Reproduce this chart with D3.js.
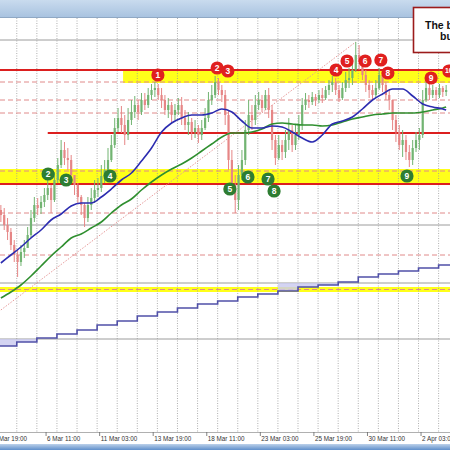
<!DOCTYPE html>
<html><head><meta charset="utf-8">
<script src="https://cdn.jsdelivr.net/npm/d3@7"></script>
<style>html,body{margin:0;padding:0;background:#fff;overflow:hidden}</style>
</head><body>
<svg id="c" width="450" height="450"></svg>
<script>
// ---------- DATA ----------
// time axis: hours of trading time after "3 Mar 19:00"
const candleStartHour = 8;   // first 4h candle opens here
const candleHours = 4;
const firstOpen = 150.40;
const closes = [150.35,150.25,150.18,150.05,149.95,149.88,149.98,150.02,150.15,150.32,
 150.45,150.42,150.48,150.55,150.62,150.50,150.70,150.85,151.00,150.92,
 150.90,150.75,150.65,150.53,150.45,150.32,150.45,150.52,150.60,150.62,
 150.74,150.80,150.90,151.05,151.22,151.32,151.25,151.15,151.30,151.38,
 151.45,151.38,151.50,151.45,151.55,151.60,151.62,151.55,151.50,151.40,
 151.45,151.35,151.40,151.45,151.32,151.25,151.28,151.18,151.22,151.15,
 151.22,151.32,151.50,151.55,151.68,151.60,151.55,151.35,150.90,150.65,
 150.50,150.75,150.90,151.20,151.35,151.30,151.45,151.50,151.42,151.55,
 151.40,151.10,150.92,151.05,150.98,151.10,151.20,151.05,151.15,151.25,
 151.45,151.50,151.48,151.53,151.50,151.55,151.52,151.60,151.65,151.68,
 151.60,151.52,151.62,151.70,151.72,151.80,151.95,151.88,151.75,151.65,
 151.60,151.55,151.62,151.75,151.65,151.55,151.50,151.30,151.18,151.05,
 151.10,150.98,150.90,151.02,151.10,151.15,151.50,151.62,151.55,151.60,
 151.55,151.62,151.58,151.60];
const highs = [150.45,150.42,150.32,150.22,150.10,150.00,150.05,150.10,150.23,150.40,
 150.53,150.52,150.54,150.62,150.70,150.65,150.78,150.92,151.10,151.08,
 151.02,150.95,150.75,150.67,150.55,150.47,150.53,150.62,150.70,150.72,
 150.85,150.90,151.02,151.15,151.32,151.42,151.44,151.35,151.42,151.50,
 151.54,151.50,151.57,151.57,151.62,151.66,151.68,151.66,151.62,151.55,
 151.52,151.48,151.46,151.52,151.53,151.40,151.38,151.32,151.30,151.25,
 151.30,151.42,151.58,151.65,151.74,151.72,151.65,151.60,151.40,151.00,
 150.75,150.85,151.00,151.30,151.50,151.45,151.55,151.58,151.55,151.60,
 151.62,151.45,151.15,151.15,151.10,151.20,151.32,151.25,151.25,151.35,
 151.52,151.57,151.55,151.58,151.56,151.60,151.62,151.64,151.70,151.74,
 151.72,151.65,151.68,151.78,151.82,151.88,152.08,152.05,151.92,151.80,
 151.70,151.65,151.70,151.82,151.80,151.68,151.60,151.50,151.35,151.25,
 151.20,151.15,151.05,151.10,151.18,151.22,151.60,151.68,151.66,151.65,
 151.63,151.66,151.64,151.65];
const lows = [150.28,150.20,150.10,150.00,149.88,149.73,149.84,149.92,150.05,150.12,
 150.28,150.35,150.36,150.43,150.50,150.37,150.48,150.67,150.82,150.85,
 150.80,150.67,150.55,150.47,150.35,150.23,150.28,150.40,150.47,150.53,
 150.58,150.67,150.78,150.88,151.02,151.18,151.17,151.05,151.10,151.25,
 151.32,151.30,151.35,151.40,151.42,151.50,151.53,151.50,151.42,151.35,
 151.32,151.27,151.30,151.35,151.25,151.20,151.15,151.10,151.12,151.07,
 151.10,151.20,151.28,151.45,151.52,151.55,151.48,151.25,150.80,150.55,
 150.37,150.40,150.70,150.85,151.15,151.20,151.25,151.40,151.38,151.40,
 151.32,151.00,150.85,150.90,150.90,150.92,151.00,150.98,151.00,151.10,
 151.20,151.40,151.42,151.45,151.44,151.47,151.47,151.50,151.55,151.58,
 151.55,151.48,151.50,151.58,151.62,151.65,151.78,151.80,151.70,151.58,
 151.52,151.50,151.52,151.60,151.58,151.50,151.40,151.20,151.08,151.00,
 150.93,150.90,150.83,150.85,150.98,151.00,151.12,151.48,151.50,151.52,
 151.50,151.52,151.53,151.54];

// moving averages, sampled every 3 candles plus the last candle
const maSampleEvery = 3;
const maBlue = [149.87,149.95,150.03,150.12,150.20,150.30,150.36,150.44,150.47,150.47,
 150.53,150.61,150.70,150.77,150.89,151.02,151.18,151.27,151.32,151.35,
 151.35,151.37,151.41,151.38,151.29,151.22,151.22,151.24,151.23,151.18,
 151.12,151.08,151.15,151.26,151.29,151.33,151.41,151.50,151.56,151.61,
 151.61,151.54,151.46,151.43,151.41,151.40];
const maGreen = [149.52,149.58,149.65,149.74,149.84,149.94,150.03,150.12,150.16,150.22,
 150.28,150.37,150.45,150.51,150.60,150.68,150.75,150.81,150.86,150.92,
 150.99,151.06,151.13,151.17,151.17,151.18,151.21,151.26,151.27,151.26,
 151.25,151.25,151.24,151.25,151.28,151.31,151.33,151.35,151.36,151.37,
 151.37,151.37,151.38,151.40,151.42,151.43];

// daily stepped average (one value per trading day)
const dayStartHour = 5;
const dayHours = 24;
const dailyStep = [149.04,149.08,149.12,149.16,149.20,149.25,149.29,149.34,149.38,149.42,
 149.46,149.49,149.53,149.56,149.59,149.63,149.65,149.68,149.73,149.76,
 149.79,149.82,149.85];

// x-axis labels, one every 64 trading hours
const xLabels = ["3 Mar 19:00","6 Mar 11:00","11 Mar 03:00","13 Mar 19:00","18 Mar 11:00",
 "23 Mar 03:00","25 Mar 19:00","30 Mar 11:00","2 Apr 03:00"];
const xLabelStep = 64;

// horizontal levels
const grayLevels = [152.10, 150.25, 149.67, 149.11];
const redLevels = [151.80, 151.17, 150.66];
const redLevelStart = [-3, 14, -3];          // candle index where line starts
const dashLevels = [151.68, 151.50, 151.37, 150.79, 150.37, 149.95, 149.605];
const bandTop = [151.80, 150.81, 149.63];
const bandBottom = [151.67, 150.66, 149.58];
const bandStart = [36.5, -3, -3];

// trend line (candle index, price)
const trendIdx = [0, 106];
const trendPrice = [149.40, 152.08];

// numbered swing markers
const redMarkText = ["1","2","3","4","5","6","7","8","9","10"];
const redMarkIdx = [46.9, 64.6, 67.8, 100.1, 103.4, 108.8, 113.5, 115.6, 128.5, 133.8];
const redMarkPrice = [151.75, 151.82, 151.79, 151.80, 151.89, 151.89, 151.90, 151.77, 151.72, 151.79];
const greenMarkText = ["2","3","4","5","6","7","8","9"];
const greenMarkIdx = [14.1, 19.5, 32.6, 68.4, 73.8, 79.8, 81.6, 121.3];
const greenMarkPrice = [150.76, 150.70, 150.74, 150.61, 150.73, 150.71, 150.59, 150.74];

const noteLines = ["The buyers push higher", "but stall at resistance"];

// ---------- DRAW ----------
const svg = d3.select("#c");
const plotTop = 18, plotBottom = 432, W = 450;
const x = d3.scaleLinear().domain([0, 546.6]).range([-7.5, W]);
const y = d3.scaleLinear().domain([148.12, 152.32]).range([438, 18]);
const hourOf = k => candleStartHour + candleHours * k + candleHours / 2;
const xk = k => x(hourOf(k));

const defs = svg.append("defs");
defs.append("clipPath").attr("id","plot").append("rect")
  .attr("x",0).attr("y",plotTop).attr("width",W).attr("height",plotBottom-plotTop);
const g1 = defs.append("linearGradient").attr("id","bar").attr("x1",0).attr("y1",0).attr("x2",0).attr("y2",1);
g1.append("stop").attr("offset","0%").attr("stop-color","#c9dbee");
g1.append("stop").attr("offset","100%").attr("stop-color","#a9c3e0");
const g2 = defs.append("linearGradient").attr("id","bot").attr("x1",0).attr("y1",0).attr("x2",0).attr("y2",1);
g2.append("stop").attr("offset","0%").attr("stop-color","#bcd1ea");
g2.append("stop").attr("offset","100%").attr("stop-color","#5f8fcb");

svg.append("rect").attr("width",W).attr("height",450).attr("fill","#fff");

const plot = svg.append("g").attr("clip-path","url(#plot)");

// yellow bands
plot.selectAll("rect.band").data(bandTop).join("rect").attr("class","band")
  .attr("x",(d,i)=>Math.max(0,xk(bandStart[i])))
  .attr("y",d=>y(d))
  .attr("width",(d,i)=>W-Math.max(0,xk(bandStart[i])))
  .attr("height",(d,i)=>y(bandBottom[i])-y(d))
  .attr("fill","#ffff1a");

// vertical day grid
const dayLines = d3.range(dayStartHour + dayHours, 546, dayHours);
plot.selectAll("line.vg").data(dayLines).join("line")
  .attr("x1",d=>x(d)).attr("x2",d=>x(d)).attr("y1",plotTop).attr("y2",plotBottom)
  .attr("stroke","#9a9a9a").attr("stroke-width",0.8).attr("stroke-dasharray","1,1.5");

// gray levels
plot.selectAll("line.gl").data(grayLevels).join("line")
  .attr("x1",0).attr("x2",W).attr("y1",d=>y(d)).attr("y2",d=>y(d))
  .attr("stroke","#9c9c9c").attr("stroke-width",1);

// dashed levels
plot.selectAll("line.dl").data(dashLevels).join("line")
  .attr("x1",0).attr("x2",W).attr("y1",d=>y(d)).attr("y2",d=>y(d))
  .attr("stroke","#e08a8a").attr("stroke-width",1).attr("stroke-dasharray","5,3");

// red levels
plot.selectAll("line.rl").data(redLevels).join("line")
  .attr("x1",(d,i)=>Math.max(0,xk(redLevelStart[i]))).attr("x2",W)
  .attr("y1",d=>y(d)).attr("y2",d=>y(d))
  .attr("stroke","#dc1f1f").attr("stroke-width",2.2);

// trend line
plot.append("line")
  .attr("x1",xk(trendIdx[0])).attr("y1",y(trendPrice[0]))
  .attr("x2",xk(trendIdx[1])).attr("y2",y(trendPrice[1]))
  .attr("stroke","#e79a9a").attr("stroke-width",1).attr("stroke-dasharray","1.5,1.5");

// daily step line + fill where it sits just below a gray level
const stepPts = [];
dailyStep.forEach((v,i)=>{
  stepPts.push([x(dayStartHour + i*dayHours), v]);
  stepPts.push([x(dayStartHour + (i+1)*dayHours), v]);
});
dailyStep.forEach((v,i)=>{
  grayLevels.forEach(gv=>{
    if (v < gv && gv - v < 0.08) {
      const x0 = x(dayStartHour + i*dayHours), x1 = x(dayStartHour + (i+1)*dayHours);
      plot.append("rect").attr("x",x0).attr("width",x1-x0)
        .attr("y",y(gv)).attr("height",y(v)-y(gv))
        .attr("fill","#c9c9ef").attr("opacity",0.8);
    }
  });
});
plot.append("path").datum(stepPts)
  .attr("d",d3.line().x(d=>d[0]).y(d=>y(d[1])))
  .attr("fill","none").attr("stroke","#5050a8").attr("stroke-width",1.6);

// candles
const bull = "#72b472", bear = "#e68686";
const candles = closes.map((c,k)=>{
  const o = k===0 ? firstOpen : closes[k-1];
  return {k, o, c, h: Math.max(highs[k],o,c), l: Math.min(lows[k],o,c)};
});
const cg = plot.append("g");
cg.selectAll("line.w").data(candles).join("line")
  .attr("x1",d=>xk(d.k)).attr("x2",d=>xk(d.k))
  .attr("y1",d=>y(d.h)).attr("y2",d=>y(d.l))
  .attr("stroke",d=>d.c>=d.o?bull:bear).attr("stroke-width",1);
cg.selectAll("rect.b").data(candles).join("rect")
  .attr("x",d=>xk(d.k)-1.1).attr("width",2.2)
  .attr("y",d=>y(Math.max(d.o,d.c)))
  .attr("height",d=>Math.max(1,Math.abs(y(d.o)-y(d.c))))
  .attr("fill",d=>d.c>=d.o?bull:bear);

// moving averages
const maIdx = d3.range(0, closes.length-1, maSampleEvery).concat([closes.length-1]);
const maLine = d3.line().x((d,i)=>xk(maIdx[i])).y(d=>y(d)).curve(d3.curveMonotoneX);
plot.append("path").datum(maGreen).attr("d",maLine)
  .attr("fill","none").attr("stroke","#2f8f2f").attr("stroke-width",1.6);
plot.append("path").datum(maBlue).attr("d",maLine)
  .attr("fill","none").attr("stroke","#2c2cb0").attr("stroke-width",1.6);

// markers
function markers(texts, idx, prices, fill) {
  const mg = plot.append("g");
  const m = mg.selectAll("g").data(texts).join("g")
    .attr("transform",(d,i)=>`translate(${xk(idx[i])},${y(prices[i])})`);
  m.append("circle").attr("r",6.6).attr("fill",fill);
  m.append("text").text(d=>d).attr("text-anchor","middle").attr("dy","0.35em")
    .attr("fill","#fff").attr("font-family","Liberation Sans, Arial, sans-serif")
    .attr("font-size",d=>d.length>1?7:8.5).attr("font-weight","bold");
}
markers(redMarkText, redMarkIdx, redMarkPrice, "#e0201f");
markers(greenMarkText, greenMarkIdx, greenMarkPrice, "#2e7d32");

// window chrome
svg.append("rect").attr("x",0).attr("y",0).attr("width",W).attr("height",plotTop-1).attr("fill","url(#bar)");
svg.append("line").attr("x1",0).attr("x2",W).attr("y1",plotTop-0.5).attr("y2",plotTop-0.5).attr("stroke","#8fa8c4");
svg.append("line").attr("x1",0).attr("x2",W).attr("y1",plotBottom+0.5).attr("y2",plotBottom+0.5).attr("stroke","#b0b0b0");
svg.append("rect").attr("x",0).attr("y",444).attr("width",W).attr("height",6).attr("fill","url(#bot)");

// x axis labels
const lblHours = xLabels.map((d,i)=>i*xLabelStep);
const ax = svg.append("g");
ax.selectAll("line").data(lblHours).join("line")
  .attr("x1",d=>x(d)).attr("x2",d=>x(d)).attr("y1",plotBottom).attr("y2",plotBottom+4)
  .attr("stroke","#666").attr("stroke-width",0.8);
ax.selectAll("text").data(xLabels).join("text")
  .attr("x",(d,i)=>x(lblHours[i])+1).attr("y",plotBottom+8.5)
  .text(d=>d).attr("font-family","Liberation Sans, Arial, sans-serif")
  .attr("font-size",6.3).attr("fill","#333");

// annotation box
const box = svg.append("g");
box.append("rect").attr("x",413.5).attr("y",7.5).attr("width",60).attr("height",45)
  .attr("fill","#fff").attr("stroke","#9c1b1b").attr("stroke-width",1.6);
box.selectAll("text").data(noteLines).join("text")
  .attr("x",(d,i)=>i===0?425:440).attr("y",(d,i)=>i===0?28.5:39.5)
  .text(d=>d).attr("font-family","Liberation Sans, Arial, sans-serif")
  .attr("font-size",10.5).attr("font-weight","bold").attr("fill","#111");
</script>
</body></html>
